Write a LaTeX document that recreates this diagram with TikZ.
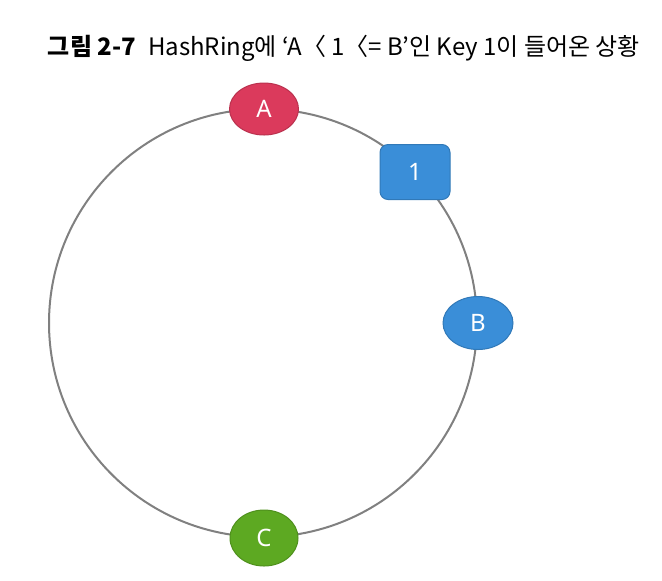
\documentclass[tikz,border=0pt]{standalone}
\usepackage{fontspec}
\usepackage{tikz}
\usetikzlibrary{shapes.geometric}
\setmainfont{Noto Sans CJK KR}
\newfontfamily\labelfont{Noto Sans}
\definecolor{nodeA}{HTML}{DB3A5C}
\definecolor{nodeB}{HTML}{3A8ED8}
\definecolor{nodeC}{HTML}{5DA922}
\definecolor{ringgray}{HTML}{808080}

\begin{document}
\begin{tikzpicture}[x=0.5pt,y=-0.5pt]
        \useasboundingbox (0,0) rectangle (662,580);
        \coordinate (ring) at (263,323);
        \coordinate (a) at (264,109);
        \coordinate (k1) at (415,172);
        \coordinate (b) at (478,323);
        \coordinate (c) at (264,538);

        \draw[ringgray,line width=1pt] (ring) circle[radius=214];

        \node[draw=nodeA!85!black,fill=nodeA,ellipse,line width=0.5pt,minimum width=34.5pt,minimum height=26pt,text=white] (NodeA) at (a){\labelfont\large A};
        \node[draw=nodeB!85!black,fill=nodeB,rectangle,rounded corners=4pt,line width=0.5pt,minimum width=35pt,minimum height=27.5pt,text=white] (Key1) at (k1){\labelfont\large 1};
        \node[draw=nodeB!85!black,fill=nodeB,ellipse,line width=0.5pt,minimum width=35pt,minimum height=26.5pt,text=white] (NodeB) at (b){\labelfont\large B};
        \node[draw=nodeC!85!black,fill=nodeC,ellipse,line width=0.5pt,minimum width=34pt,minimum height=28pt,text=white] (NodeC) at (c){\labelfont\large C};

        \node[anchor=center,inner sep=0pt] (Title) at (344,48){\fontsize{12pt}{14pt}\selectfont\textbf{그림 2-7}\hspace{6pt}HashRing에 ‘A〈 1〈= B’인 Key 1이 들어온 상황};
\end{tikzpicture}
\end{document}
